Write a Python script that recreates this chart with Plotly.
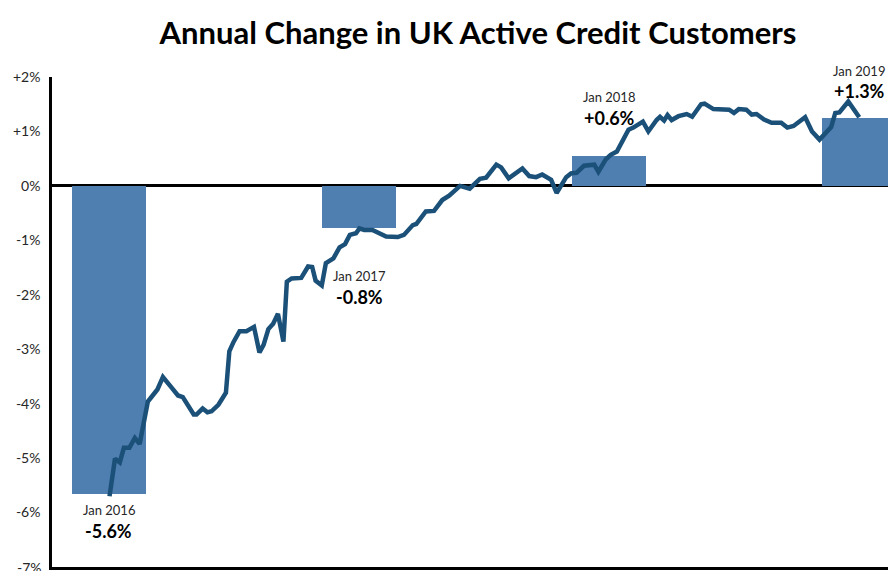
import plotly.graph_objects as go
import pandas as pd

# Annual (January) values shown as bars
bar_dates = ["2016-01-01", "2017-01-01", "2018-01-01", "2019-01-01"]
bar_values = [-5.65, -0.78, 0.55, 1.25]
bar_month_labels = ["Jan 2016", "Jan 2017", "Jan 2018", "Jan 2019"]
bar_value_labels = ["-5.6%", "-0.8%", "+0.6%", "+1.3%"]

# Weekly-ish series
line_dates = [
    "2016-01-02", "2016-01-10", "2016-01-17", "2016-01-23", "2016-01-31", "2016-02-08",
    "2016-02-15", "2016-02-22", "2016-02-27", "2016-03-12", "2016-03-20", "2016-04-02",
    "2016-04-11", "2016-04-18", "2016-04-26", "2016-05-04", "2016-05-08", "2016-05-17",
    "2016-05-24", "2016-05-30", "2016-06-09", "2016-06-20", "2016-06-25", "2016-07-01",
    "2016-07-10", "2016-07-20", "2016-07-31", "2016-08-08", "2016-08-14", "2016-08-21",
    "2016-08-28", "2016-09-04", "2016-09-12", "2016-09-17", "2016-09-24", "2016-10-08",
    "2016-10-18", "2016-10-24", "2016-10-29", "2016-11-07", "2016-11-13", "2016-11-24",
    "2016-12-03", "2016-12-11", "2016-12-18", "2016-12-27", "2017-01-01", "2017-01-08",
    "2017-01-20", "2017-01-30", "2017-02-09", "2017-02-26", "2017-03-07", "2017-03-20",
    "2017-03-25", "2017-04-08", "2017-04-20", "2017-05-02", "2017-05-12", "2017-05-28",
    "2017-06-11", "2017-06-26", "2017-07-05", "2017-07-20", "2017-07-27", "2017-08-07",
    "2017-08-27", "2017-09-06", "2017-09-16", "2017-09-25", "2017-10-08", "2017-10-16",
    "2017-10-22", "2017-10-30", "2017-11-06", "2017-11-14", "2017-11-25", "2017-12-07",
    "2017-12-10", "2017-12-16", "2017-12-27", "2018-01-03", "2018-01-12", "2018-01-29",
    "2018-02-05", "2018-02-19", "2018-02-27", "2018-03-11", "2018-03-16", "2018-03-22",
    "2018-03-27", "2018-04-02", "2018-04-12", "2018-04-24", "2018-05-02", "2018-05-15",
    "2018-05-20", "2018-06-02", "2018-06-25", "2018-07-02", "2018-07-09", "2018-07-20",
    "2018-07-28", "2018-08-04", "2018-08-15", "2018-08-26", "2018-09-09", "2018-09-18",
    "2018-09-27", "2018-10-14", "2018-10-24", "2018-11-04", "2018-11-21", "2018-11-27",
    "2018-12-03", "2018-12-16", "2019-01-01",
]
line_values = [
    -5.70, -5.01, -5.08, -4.81, -4.81, -4.63,
    -4.74, -4.34, -3.96, -3.74, -3.51, -3.71,
    -3.85, -3.88, -4.05, -4.20, -4.20, -4.09,
    -4.16, -4.14, -4.02, -3.80, -3.04, -2.87,
    -2.67, -2.67, -2.59, -3.06, -2.92, -2.63,
    -2.53, -2.35, -2.86, -1.76, -1.70, -1.69,
    -1.48, -1.49, -1.74, -1.83, -1.42, -1.33,
    -1.13, -1.07, -0.90, -0.87, -0.78, -0.81,
    -0.81, -0.88, -0.93, -0.94, -0.90, -0.72,
    -0.70, -0.47, -0.46, -0.26, -0.18, 0.00,
    -0.05, 0.13, 0.15, 0.39, 0.34, 0.14,
    0.32, 0.18, 0.16, 0.21, 0.11, -0.13,
    -0.01, 0.16, 0.23, 0.24, 0.37, 0.37,
    0.39, 0.26, 0.49, 0.57, 0.63, 1.03,
    1.07, 1.18, 1.00, 1.21, 1.27, 1.20,
    1.30, 1.21, 1.28, 1.32, 1.27, 1.50,
    1.51, 1.41, 1.40, 1.34, 1.41, 1.40,
    1.31, 1.32, 1.22, 1.16, 1.16, 1.07,
    1.10, 1.26, 1.00, 0.85, 1.08, 1.34,
    1.35, 1.55, 1.26,
]

y_tick_values = [2, 1, 0, -1, -2, -3, -4, -5, -6, -7]
y_tick_labels = ["+2%", "+1%", "0%", "-1%", "-2%", "-3%", "-4%", "-5%", "-6%", "-7%"]

Y_MIN, Y_MAX = -7.0, 2.0

# caption positions (in % units) for month / value labels
month_label_y = [-5.96, -1.65, 1.64, 2.11]
value_label_y = [-6.34, -2.04, 1.25, 1.75]

FONT = "Lato"

fig = go.Figure()
fig.add_trace(go.Bar(
    x=pd.to_datetime(bar_dates), y=bar_values,
    width=108 * 86400000,
    marker=dict(color="#4F7EB0", line=dict(width=0)),
    showlegend=False, hoverinfo="skip",
))
fig.add_trace(go.Scatter(
    x=pd.to_datetime(line_dates), y=line_values, mode="lines",
    line=dict(color="#1B5079", width=4.5, shape="linear"),
    showlegend=False,
))

for d, ml, vl, my, vy in zip(bar_dates, bar_month_labels, bar_value_labels,
                             month_label_y, value_label_y):
    fig.add_annotation(x=d, xref="x", y=(my - Y_MIN) / (Y_MAX - Y_MIN), yref="paper",
                       text=ml, showarrow=False,
                       font=dict(family=FONT, size=13, color="#262626"),
                       xanchor="center", yanchor="middle")
    fig.add_annotation(x=d, xref="x", y=(vy - Y_MIN) / (Y_MAX - Y_MIN), yref="paper",
                       text="<b>" + vl + "</b>", showarrow=False,
                       font=dict(family=FONT, size=18, color="#000000"),
                       xanchor="center", yanchor="middle")

# -7% tick label sits on the bottom edge and is cut by the page
fig.add_annotation(x=0, xref="paper", xanchor="right", xshift=-8,
                   y=0, yref="paper", yanchor="middle",
                   text=y_tick_labels[-1], showarrow=False,
                   font=dict(family=FONT, size=14, color="#262626"))

fig.update_layout(
    width=888, height=571,
    margin=dict(l=52, r=0, t=77, b=4),
    paper_bgcolor="white", plot_bgcolor="white",
    bargap=0,
    title=dict(text="<b>Annual Change in UK Active Credit Customers</b>",
               x=478 / 888, xanchor="center", xref="container",
               y=1 - 33 / 571, yanchor="middle", yref="container",
               font=dict(family=FONT, size=31, color="#000000")),
    xaxis=dict(range=["2015-10-10", "2019-02-12"], showgrid=False,
               showticklabels=False, ticks="", zeroline=False,
               showline=True, linecolor="#000000", linewidth=2.5),
    yaxis=dict(range=[Y_MIN, Y_MAX], tickvals=y_tick_values[:-1],
               ticktext=y_tick_labels[:-1],
               showgrid=False, ticks="", zeroline=True, zerolinecolor="#000000",
               zerolinewidth=2.5, showline=True, linecolor="#000000", linewidth=2.5,
               tickfont=dict(family=FONT, size=14, color="#262626"),
               ticklabelstandoff=6),
)

fig.write_html("out.html")
